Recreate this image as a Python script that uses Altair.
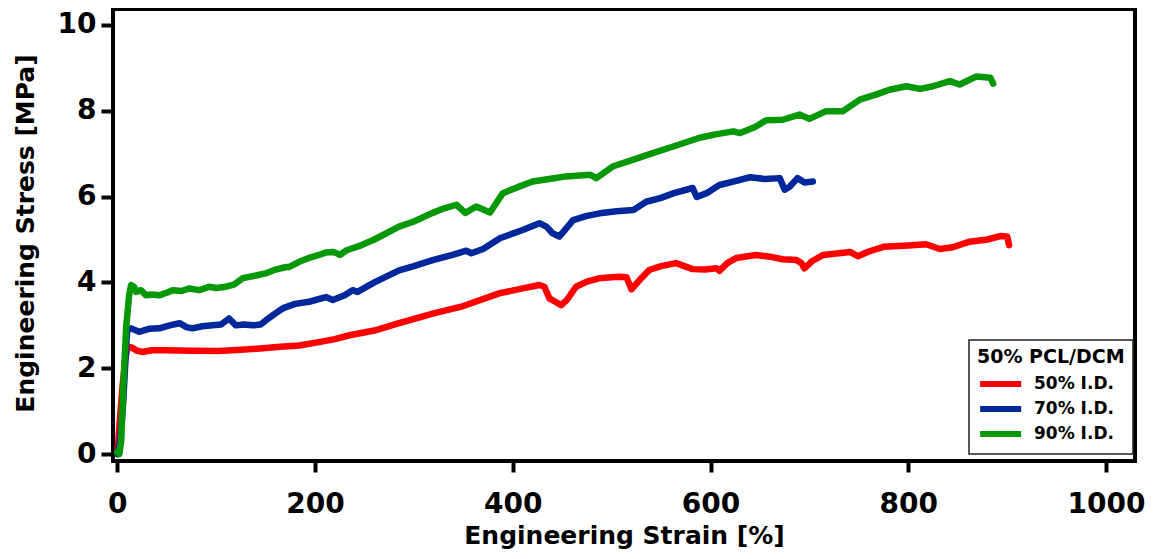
import altair as alt
import pandas as pd

# Series labels and colours
series = ["50% I.D.", "70% I.D.", "90% I.D."]
colors = ["#ff0000", "#00279b", "#079807"]

# 50% I.D. (red)
red_x = [0, 2, 5, 8, 10, 12, 15, 19, 25, 35,
         49, 75, 103, 125, 144, 165, 184, 204, 220, 235,
         260, 285, 320, 350, 387, 410, 427, 432, 437, 443,
         449, 455, 464, 475, 488, 500, 508, 515, 520, 528,
         538, 550, 565, 582, 595, 606, 609, 617, 626, 646,
         660, 673, 687, 692, 695, 703, 714, 741, 749, 760,
         775, 800, 818, 832, 845, 862, 880, 893, 900, 902]
red_y = [0.0, 0.6, 1.5, 2.2, 2.45, 2.5, 2.48, 2.42, 2.38, 2.42,
         2.42, 2.41, 2.40, 2.43, 2.46, 2.5, 2.53, 2.61, 2.68, 2.77,
         2.88, 3.05, 3.28, 3.45, 3.75, 3.86, 3.94, 3.9, 3.63, 3.55,
         3.47, 3.6, 3.9, 4.02, 4.1, 4.12, 4.13, 4.12, 3.84, 4.05,
         4.29, 4.38, 4.45, 4.31, 4.3, 4.33, 4.27, 4.45, 4.57, 4.64,
         4.6, 4.54, 4.52, 4.45, 4.33, 4.5, 4.64, 4.71, 4.61, 4.72,
         4.83, 4.86, 4.89, 4.78, 4.82, 4.95, 5.0, 5.08, 5.07, 4.87]

# 70% I.D. (blue)
blue_x = [0, 3, 6, 9, 10, 14, 22, 32, 42.5, 53,
          63, 70, 76, 86, 96.5, 105, 113, 120, 128, 137,
          145, 150.5, 160, 167.7, 180, 194, 211, 218, 230, 238,
          243, 260, 285, 300, 319, 340, 353, 358, 370, 387,
          410, 427, 434, 440, 447, 452, 461, 475, 488, 505,
          522, 535, 550, 563, 582, 586, 596, 609, 623, 640,
          655, 670, 675, 680, 688, 695, 703.5]
blue_y = [0.0, 0.3, 1.2, 2.5, 2.88, 2.93, 2.85, 2.92, 2.93, 3.0,
          3.05, 2.96, 2.93, 2.98, 3.0, 3.02, 3.16, 3.0, 3.02, 3.0,
          3.02, 3.12, 3.28, 3.4, 3.5, 3.55, 3.66, 3.59, 3.7, 3.82,
          3.78, 4.0, 4.28, 4.38, 4.52, 4.65, 4.74, 4.68, 4.78, 5.03,
          5.22, 5.38, 5.3, 5.15, 5.07, 5.2, 5.45, 5.55, 5.61, 5.66,
          5.69, 5.88, 5.97, 6.08, 6.2, 5.99, 6.08, 6.27, 6.35, 6.45,
          6.41, 6.43, 6.16, 6.23, 6.43, 6.33, 6.35]

# 90% I.D. (green)
green_x = [0, 2, 4, 6, 9, 12, 14, 17, 19, 24,
           29, 35, 42.5, 50, 56, 65, 73, 83, 93, 100,
           110, 118, 127, 138, 150, 160, 171, 174, 184, 195,
           204, 211, 218, 222, 225, 232, 245, 260, 285, 300,
           319, 330, 343, 352, 363, 370, 377, 390, 405, 420,
           440, 454, 478, 484.5, 501, 522, 540, 560, 589, 605,
           623, 630, 645, 656.5, 673, 690, 700, 717, 734, 751,
           768, 781, 798, 812, 825, 842, 852, 869, 883, 886]
green_y = [0.05, 0.0, 0.3, 1.5, 2.96, 3.7, 3.94, 3.9, 3.78, 3.82,
           3.7, 3.72, 3.7, 3.76, 3.82, 3.8, 3.86, 3.82, 3.9, 3.87,
           3.9, 3.95, 4.1, 4.15, 4.21, 4.3, 4.36, 4.36, 4.48, 4.58,
           4.64, 4.7, 4.71, 4.68, 4.64, 4.75, 4.85, 5.0, 5.3, 5.42,
           5.62, 5.72, 5.81, 5.62, 5.77, 5.7, 5.63, 6.08, 6.22, 6.35,
           6.42, 6.47, 6.51, 6.43, 6.7, 6.86, 7.0, 7.15, 7.37, 7.45,
           7.52, 7.48, 7.62, 7.78, 7.79, 7.91, 7.81, 7.99, 7.99, 8.26,
           8.38, 8.49, 8.57, 8.51, 8.57, 8.69, 8.61, 8.8, 8.77, 8.63]

x_ticks = [0, 200, 400, 600, 800, 1000]
y_ticks = [0, 2, 4, 6, 8, 10]

assert len(red_x) == len(red_y)
assert len(blue_x) == len(blue_y)
assert len(green_x) == len(green_y)

rows = []
for name, xs, ys in [(series[0], red_x, red_y), (series[1], blue_x, blue_y), (series[2], green_x, green_y)]:
    for i, (a, b) in enumerate(zip(xs, ys)):
        rows.append({"series": name, "strain": a, "stress": b, "idx": i})
df = pd.DataFrame(rows)

FONT = "DejaVu Sans"

chart = alt.Chart(df).mark_line(strokeWidth=6.5, strokeJoin="round", strokeCap="round").encode(
    x=alt.X("strain:Q",
            scale=alt.Scale(domain=[-4.3, 1029.3], nice=False, zero=False),
            axis=alt.Axis(values=x_ticks, format="d", title="Engineering Strain [%]", grid=False, domain=False,
                          tickSize=11, tickWidth=4, tickColor="black",
                          labelFont=FONT, labelFontSize=28, labelFontWeight="bold", labelColor="black",
                          labelPadding=18,
                          titleFont=FONT, titleFontSize=25, titleFontWeight="bold", titleColor="black",
                          titleY=82, titleBaseline="alphabetic")),
    y=alt.Y("stress:Q",
            scale=alt.Scale(domain=[-0.16, 10.37], nice=False, zero=False),
            axis=alt.Axis(values=y_ticks, format="d", title="Engineering Stress [MPa]", grid=False, domain=False,
                          tickSize=12, tickWidth=4, tickColor="black",
                          labelFont=FONT, labelFontSize=28, labelFontWeight="bold", labelColor="black",
                          labelPadding=5,
                          titleFont=FONT, titleFontSize=25, titleFontWeight="bold", titleColor="black",
                          titleX=-80, titleY=224, titleBaseline="alphabetic", titleAlign="center")),
    color=alt.Color("series:N",
                    scale=alt.Scale(domain=series, range=colors),
                    legend=alt.Legend(title="50% PCL/DCM", orient="none", legendX=856, legendY=331,
                                      symbolType="M-1,0H5", symbolSize=187, symbolStrokeWidth=6,
                                      rowPadding=1, labelOffset=37,
                                      labelFont=FONT, labelFontSize=17, labelFontWeight="bold", labelColor="black",
                                      titleFont=FONT, titleFontSize=19, titleFontWeight="bold", titleColor="black",
                                      titlePadding=7, padding=8,
                                      strokeColor="#222222", fillColor="white")),
    order=alt.Order("idx:Q"),
).properties(
    width=1022, height=452,
    autosize=alt.AutoSizeParams(type="none"),
    padding={"left": 105, "top": 1, "right": 12, "bottom": 90},
).configure_view(
    stroke="black", strokeWidth=4
).configure_legend(
    strokeWidth=1.5
)

chart.save("out.html", embed_options={"renderer": "svg", "actions": False})
